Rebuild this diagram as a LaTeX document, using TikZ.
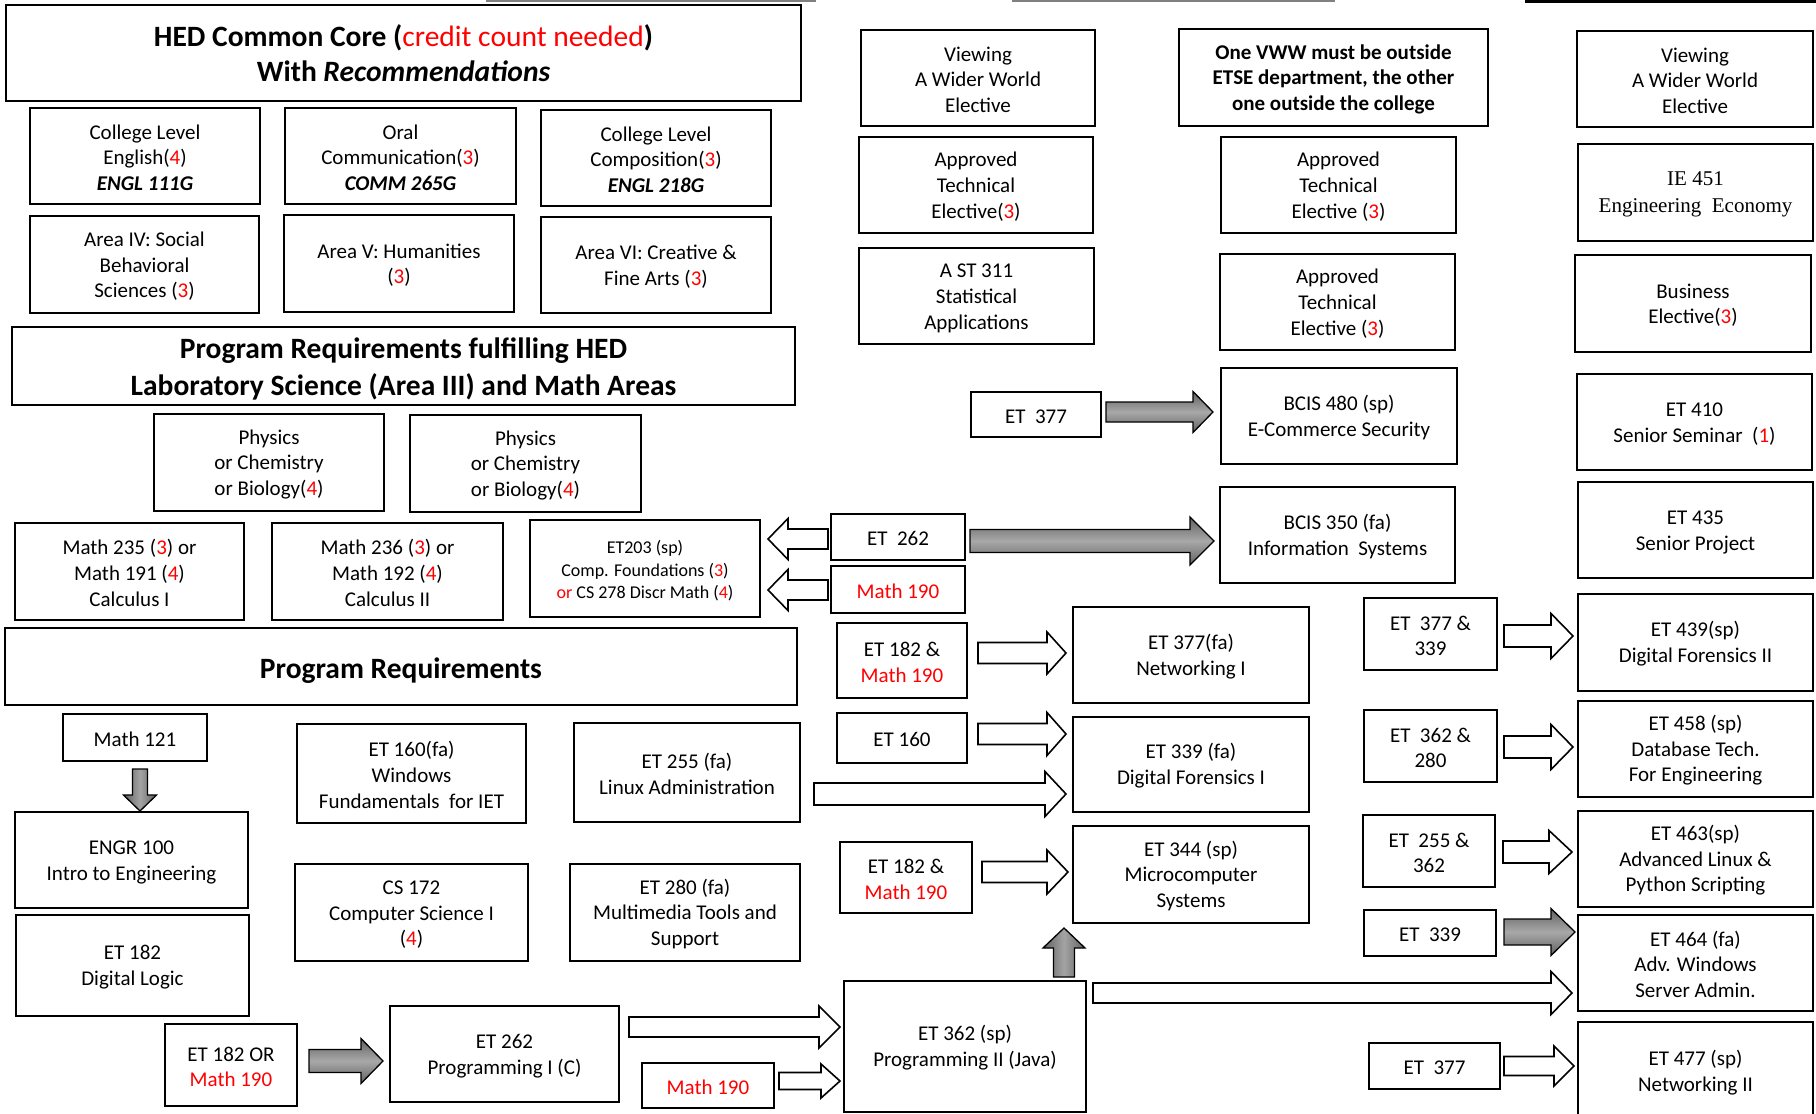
\documentclass[tikz,border=0pt]{standalone}
\usepackage{fontspec}
\setmainfont{Carlito}
\newfontfamily\timesf{Liberation Serif}
\usetikzlibrary{calc}
\definecolor{cred}{RGB}{255,0,0}
\newcommand\redt[1]{\textcolor{cred}{#1}}
\tikzset{
  box/.style={draw, line width=1.8pt, inner sep=0pt, outer sep=0pt, align=center,
    font=\fontsize{21}{25.7}\selectfont},
  titlef/.style={font=\fontsize{29.5}{35.5}\selectfont},
  smallf/.style={font=\fontsize{18}{22.5}\selectfont},
  openarr/.style={draw=black, line width=1.6pt, fill=white, line join=miter},
  grayarr/.style={draw=black, line width=1.3pt, top color=black!62, bottom color=black!62, middle color=black!34},
  grayv/.style={draw=black, line width=1.3pt, left color=black!62, right color=black!62, middle color=black!36}
}
% box from corners (x1,y1)-(x2,y2) in pixel coordinates (y downward)
\newcommand\mybox[7][]{%
  \pgfmathsetmacro\bxcx{(#3+#5)/2}\pgfmathsetmacro\bxcy{(#4+#6)/2}%
  \pgfmathsetmacro\bxw{#5-#3}\pgfmathsetmacro\bxh{#6-#4}%
  \node[box,minimum width=\bxw pt,minimum height=\bxh pt,#1] (#2) at (\bxcx,\bxcy) {\rule{0pt}{18pt}#7};}
% horizontal block arrow: style, start point, tip point (x only), shaft half, head half, head length (signed)
\newcommand\harr[6]{%
  \path[#1] let \p1=#2, \p2=#3 in
   ({\x1},{\y1+#4}) -- ({\x2-(#6)},{\y1+#4}) -- ({\x2-(#6)},{\y1+#5}) -- ({\x2},{\y1})
   -- ({\x2-(#6)},{\y1-#5}) -- ({\x2-(#6)},{\y1-#4}) -- ({\x1},{\y1-#4}) -- cycle;}
% vertical block arrow: style, start point, tip point (y only), shaft half, head half, head length (signed, canvas)
\newcommand\varr[6]{%
  \path[#1] let \p1=#2, \p2=#3 in
   ({\x1+#4},{\y1}) -- ({\x1+#4},{\y2-(#6)}) -- ({\x1+#5},{\y2-(#6)}) -- ({\x1},{\y2})
   -- ({\x1-#5},{\y2-(#6)}) -- ({\x1-#4},{\y2-(#6)}) -- ({\x1-#4},{\y1}) -- cycle;}
\begin{document}
\begin{tikzpicture}[x=1pt,y=-1pt]
\useasboundingbox (0,0) rectangle (1816,1114);
\fill[white] (0,0) rectangle (1816,1114);
% top cut-off lines
\draw[black!50, line width=1.5pt] (486,0.8) -- (816,0.8);
\draw[black!50, line width=1.5pt] (1012,0.8) -- (1335,0.8);
\fill[black] (1525,0) rectangle (1816,3);

% ---------- left column ----------
\mybox[titlef]{hed}{6}{5}{801}{101}{{\bfseries HED Common Core (}\redt{credit count needed}{\bfseries )}\\{\bfseries With \itshape Recommendations}}
\mybox{eng}{30}{108}{260}{204}{College Level\\English(\redt{4})\\\textbf{\textit{ENGL 111G}}}
\mybox{oral}{285}{108}{516}{204}{Oral\\Communication(\redt{3})\\\textbf{\textit{COMM 265G}}}
\mybox{comp}{541}{110}{771}{206}{College Level\\Composition(\redt{3})\\\textbf{\textit{ENGL 218G}}}
\mybox{area4}{30}{216}{259}{313}{Area IV: Social\\Behavioral\\Sciences (\redt{3})}
\mybox{area5}{284}{215}{514}{312}{Area V: Humanities\\(\redt{3})}
\mybox{area6}{541}{217}{771}{313}{Area VI: Creative \&\\Fine Arts (\redt{3})}
\mybox[titlef,font=\fontsize{29.5}{36.5}\selectfont]{prhed}{12}{327}{795}{405}{\rule{0pt}{27pt}\bfseries Program Requirements fulfilling HED\\\bfseries Laboratory Science (Area III) and Math Areas}
\mybox{phys1}{154}{414}{384}{511}{Physics\\or Chemistry\\or Biology(\redt{4})}
\mybox{phys2}{410}{415}{641}{512}{Physics\\or Chemistry\\or Biology(\redt{4})}
\mybox{m235}{15}{523}{244}{620}{Math 235 (\redt{3}) or\\Math 191 (\redt{4})\\Calculus I}
\mybox{m236}{272}{523}{503}{620}{Math 236 (\redt{3}) or\\Math 192 (\redt{4})\\Calculus II}
\mybox[smallf]{et203}{530}{520}{760}{617}{ET203 (sp)\\Comp. Foundations (\redt{3})\\\redt{or} CS 278 Discr Math (\redt{4})}
\mybox[titlef]{progreq}{5}{628}{797}{705}{\rule{0pt}{28pt}\bfseries Program Requirements}
\mybox{math121}{63}{714}{207}{761}{Math 121}
\mybox{engr}{15}{812}{248}{908}{ENGR 100\\Intro to Engineering}
\mybox{et182dl}{16}{915}{249}{1016}{ET 182\\Digital Logic}
\mybox{et160fa}{297}{724}{526}{823}{ET 160(fa)\\Windows\\Fundamentals\ \ for IET}
\mybox{et255fa}{574}{723}{800}{822}{ET 255 (fa)\\Linux Administration}
\mybox{cs172}{295}{864}{528}{961}{CS 172\\Computer Science I\\(\redt{4})}
\mybox{et280fa}{570}{864}{800}{961}{ET 280 (fa)\\Multimedia Tools and\\Support}
\mybox{et182or}{165}{1024}{297}{1106}{ET 182 OR\\\redt{Math 190}}
\mybox{et262pi}{390}{1006}{619}{1102}{ET 262\\Programming I (C)}
\mybox{m190c}{642}{1063}{774}{1108}{\redt{Math 190}}
\mybox{et362}{844}{981}{1086}{1112}{ET 362 (sp)\\Programming II (Java)}

% ---------- middle / right columns ----------
\mybox{vww1}{861}{30}{1095}{126}{Viewing\\A Wider World\\Elective}
\mybox{onevww}{1179}{29}{1488}{126}{\bfseries One VWW must be outside\\\bfseries ETSE department, the other\\\bfseries one outside the college}
\mybox{vww2}{1577}{31}{1813}{127}{Viewing\\A Wider World\\Elective}
\mybox{ate1}{859}{137}{1093}{233}{Approved\\Technical\\Elective(\redt{3})}
\mybox{ate2}{1221}{137}{1456}{233}{Approved\\Technical\\Elective (\redt{3})}
\mybox[font=\timesf\fontsize{21}{27}\selectfont]{ie451}{1578}{144}{1813}{241}{IE 451\\Engineering\ \ Economy}
\mybox{ast311}{859}{248}{1094}{344}{A ST 311\\Statistical\\Applications}
\mybox{ate3}{1220}{254}{1455}{350}{Approved\\Technical\\Elective (\redt{3})}
\mybox{business}{1575}{255}{1811}{352}{Business\\Elective(\redt{3})}
\mybox{et377a}{971}{392}{1101}{437}{ET\ \ 377}
\mybox{bcis480}{1221}{368}{1457}{464}{BCIS 480 (sp)\\E-Commerce Security}
\mybox{et410}{1577}{374}{1812}{470}{ET 410\\Senior Seminar\ \ (\redt{1})}
\mybox{et262s}{831}{514}{965}{560}{ET\ \ 262}
\mybox{m190s}{831}{566}{965}{613}{\redt{Math 190}}
\mybox{bcis350}{1220}{487}{1455}{583}{BCIS 350 (fa)\\Information\ \ Systems}
\mybox{et435}{1578}{482}{1813}{578}{ET 435\\Senior Project}
\mybox{et182m1}{837}{623}{967}{698}{ET 182 \&\\\redt{Math 190}}
\mybox{et377fa}{1073}{607}{1309}{703}{ET 377(fa)\\Networking I}
\mybox{et160s}{837}{713}{967}{763}{ET 160}
\mybox{et339fa}{1073}{717}{1309}{812}{ET 339 (fa)\\Digital Forensics I}
\mybox{et182m2}{840}{842}{972}{913}{ET 182 \&\\\redt{Math 190}}
\mybox{et344}{1073}{826}{1309}{923}{ET 344 (sp)\\Microcomputer\\Systems}
\mybox{et377339}{1364}{598}{1497}{670}{ET\ \ 377 \&\\339}
\mybox{et439}{1578}{594}{1813}{691}{ET 439(sp)\\Digital Forensics II}
\mybox{et362280}{1364}{710}{1497}{782}{ET\ \ 362 \&\\280}
\mybox{et458}{1578}{701}{1813}{797}{ET 458 (sp)\\Database Tech.\\For Engineering}
\mybox{et255362}{1363}{815}{1495}{887}{ET\ \ 255 \&\\362}
\mybox{et463}{1578}{811}{1813}{907}{ET 463(sp)\\Advanced Linux \&\\Python Scripting}
\mybox{et339s}{1364}{910}{1496}{956}{ET\ \ 339}
\mybox{et464}{1578}{915}{1813}{1011}{ET 464 (fa)\\Adv. Windows\\Server Admin.}
\mybox{et377b}{1369}{1043}{1500}{1089}{ET\ \ 377}
\mybox{et477}{1578}{1022}{1813}{1120}{ET 477 (sp)\\Networking II}

% ---------- connectors (block arrows) ----------
\harr{openarr}{($(et262s.west)+(-3,2)$)}{($(et203.east)+(8,0)$)}{10}{20.5}{-20}
\harr{openarr}{($(m190s.west)+(-3,0.5)$)}{($(et203.east)+(8,0)$)}{10}{20.5}{-20}
\harr{grayarr}{($(et262s.east)+(5,4)$)}{($(bcis350.west)+(-6,0)$)}{11.5}{24}{24}
\harr{grayarr}{($(et377a.east)+(5,-2.5)$)}{($(bcis480.west)+(-8,0)$)}{10}{20.5}{20}
\harr{openarr}{($(et182m1.east)+(11,-7.5)$)}{($(et377fa.west)+(-7,0)$)}{10.5}{21}{19}
\harr{openarr}{($(et160s.east)+(11,-4)$)}{($(et339fa.west)+(-7,0)$)}{10.5}{21.5}{19}
\harr{openarr}{($(et255fa.east)+(14,21.5)$)}{($(et339fa.west)+(-7,0)$)}{11}{22.5}{21}
\harr{openarr}{($(et182m2.east)+(10,-5.5)$)}{($(et344.west)+(-5,0)$)}{10.5}{22}{21}
\harr{grayarr}{($(et182or.east)+(12,-4)$)}{($(et262pi.west)+(-7,0)$)}{11.5}{22.5}{22}
\harr{openarr}{($(et262pi.east)+(10,-27)$)}{($(et362.west)+(-4,0)$)}{10}{21}{21}
\harr{openarr}{($(m190c.east)+(5,-4.5)$)}{($(et362.west)+(-4,0)$)}{8.5}{17}{19}
\varr{grayv}{($(et362.north east)+(-22,-4)$)}{($(et344.south west)+(-9,5)$)}{10.5}{21}{20}
\harr{openarr}{($(et362.north east)+(7,12)$)}{($(et464.west)+(-6,0)$)}{10}{21.5}{21}
\harr{openarr}{($(et377339.east)+(7,2)$)}{($(et439.west)+(-5,0)$)}{11}{22.5}{22}
\harr{openarr}{($(et362280.east)+(7,1)$)}{($(et458.west)+(-5,0)$)}{11}{22.5}{22}
\harr{openarr}{($(et255362.east)+(8,1)$)}{($(et463.west)+(-6,0)$)}{11}{21.5}{23}
\harr{grayarr}{($(et339s.east)+(8,-1)$)}{($(et464.west)+(-3,0)$)}{13}{23.5}{24}
\harr{openarr}{($(et377b.east)+(4,0)$)}{($(et477.west)+(-4,0)$)}{9.5}{20}{20}
\varr{grayv}{($(math121.south)+(5,8)$)}{($(engr.north)+(0,-1)$)}{7.5}{16.5}{-16}
\end{tikzpicture}
\end{document}
